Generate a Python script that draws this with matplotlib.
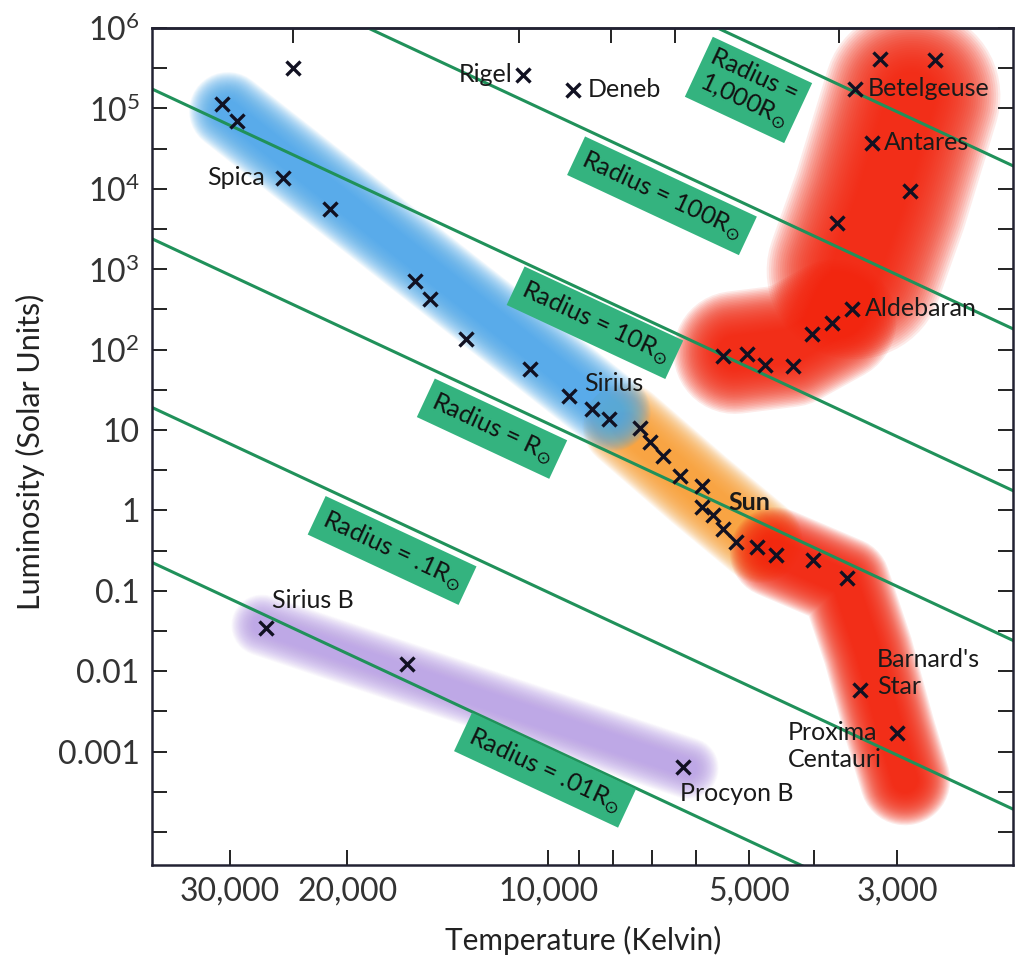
import numpy as np
import matplotlib.pyplot as plt
from matplotlib.ticker import FixedLocator, NullLocator

plt.rcParams['font.family'] = ['Lato', 'DejaVu Sans']

# ---- data ----
# main sequence (upper blue + lower orange/red part)
ms_temp = [30800, 29300, 25000, 21240, 15840, 15040, 13280, 10650, 9310, 8600, 8110,
           7285, 7040, 6730, 6345, 5880, 5880, 5660, 5470, 5230, 4864, 4555, 4009, 3565,
           3409, 3000]
ms_lum = [1.14e5, 7.0e4, 1.37e4, 5650, 720, 430, 137, 58, 26.8, 18.5, 13.9,
          10.7, 7.2, 4.7, 2.65, 2.04, 1.1, 0.87, 0.58, 0.41, 0.347, 0.276, 0.239, 0.143,
          0.0058, 0.0017]

# giants and supergiants
giant_temp = [5470, 5035, 4730, 4295, 4023, 3754, 3503, 3690, 2868, 3269, 3467, 3181, 2630]
giant_lum = [84, 89, 65, 63, 158, 216, 323, 3780, 9440, 3.73e4, 1.75e5, 4.12e5, 4.0e5]

super_temp = [24130, 10910, 9180]
super_lum = [3.19e5, 2.61e5, 1.7e5]

# white dwarfs
wd_temp = [26500, 16280, 6280]
wd_lum = [0.0342, 0.0122, 6.4e-4]

# named stars
names = ['Rigel', 'Deneb', 'Betelgeuse', 'Antares', 'Spica', 'Aldebaran', 'Sirius',
         'Sun', 'Sirius B', "Barnard's\nStar", 'Proxima\nCentauri', 'Procyon B']
name_temp = [10910, 9180, 3467, 3269, 25000, 3503, 9310, 5880, 26500, 3409, 3000, 6280]
name_lum = [2.61e5, 1.7e5, 1.75e5, 3.73e4, 1.37e4, 323, 26.8, 1.1, 0.0342, 0.0058,
            0.0017, 6.4e-4]

# radius lines: luminosity each line has at 5778 K
radius_labels = ['Radius =\n1,000R$_{\\odot}$', 'Radius = 100R$_{\\odot}$',
                 'Radius = 10R$_{\\odot}$', 'Radius = R$_{\\odot}$',
                 'Radius = .1R$_{\\odot}$', 'Radius = .01R$_{\\odot}$']
radius_lum_sun = [1.15e6, 1.08e4, 105, 1.44, 0.0115, 1.36e-4]
radius_slope = 3.87
# where each label box sits (temperature, luminosity of box centre)
box_temp = [5000, 6752, 8510, 12140, 17140, 10110]
box_lum = [1.75e5, 8190, 216, 10.4, 0.318, 5.9e-4]

# shaded regions (centre paths)
blue_band_t = [30200, 8025]
blue_band_l = [9.3e4, 16.5]
orange_band_t = [7674, 5922, 4813]
orange_band_l = [11.4, 1.77, 0.424]
redms_band_t = [4571, 3589, 3316, 3073, 2917]
redms_band_l = [0.301, 0.1276, 0.0182, 0.00185, 4.43e-4]
lobe_band_t = [5250, 4340, 3715]
lobe_band_l = [92, 112, 229]
column_band_t = [3467, 3181, 2849]
column_band_l = [958, 7100, 1.43e5]
wd_band_t = [26850, 6172]
wd_band_l = [0.0373, 6.24e-4]

xticks = [30000, 20000, 10000, 5000, 3000]
xtick_labels = ['30,000', '20,000', '10,000', '5,000', '3,000']
xminor = [9000, 8000, 7000, 6000, 4000]
top_ticks = [24100, 11050, 8060, 6450, 3660]
yticks = [1e6, 1e5, 1e4, 1e3, 1e2, 10, 1, 0.1, 0.01, 0.001, 1e-4]
ytick_labels = [r'$\mathregular{10^{6}}$', r'$\mathregular{10^{5}}$',
                r'$\mathregular{10^{4}}$', r'$\mathregular{10^{3}}$',
                r'$\mathregular{10^{2}}$', '10', '1', '0.1', '0.01', '0.001', '']

fig = plt.figure(figsize=(10.15, 9.59), dpi=100)
ax = fig.add_axes([152 / 1015, 1 - 865 / 959, 861 / 1015, 837 / 959])
ax.set_xscale('log')
ax.set_yscale('log')
ax.set_xlim(39260, 2010)
ax.set_ylim(3.9e-5, 1e6)


def soft_band(t, l, width, color, n=30, alpha=0.09):
    # stack of strokes, widest first, gives a blurred edge
    for i in range(n):
        w = width * (1.3 - 0.95 * i / (n - 1))
        ax.plot(t, l, color=color, lw=w, alpha=alpha, solid_capstyle='round',
                solid_joinstyle='round', zorder=1)


soft_band(orange_band_t, orange_band_l, 47, '#f8a43c')
soft_band(blue_band_t, blue_band_l, 43, '#4ea8ea', alpha=0.075)
soft_band(redms_band_t, redms_band_l, 50, '#f2260f')
soft_band(lobe_band_t, lobe_band_l, 68, '#f2260f')
soft_band(column_band_t, column_band_l, 98, '#f2260f')
soft_band(wd_band_t, wd_band_l, 34, '#b59ae6', alpha=0.05)

# radius lines
t_line = np.array([60000, 1500])
line_color = '#20915a'
for lsun in radius_lum_sun:
    ax.plot(t_line, lsun * (t_line / 5778) ** radius_slope, color=line_color,
            lw=2.2, zorder=2)

# angle of the lines on screen
p = ax.transData.transform([(10000, (10000 / 5778) ** radius_slope),
                            (5000, (5000 / 5778) ** radius_slope)])
angle = np.degrees(np.arctan2(p[1, 1] - p[0, 1], p[1, 0] - p[0, 0]))

for lab, bt, bl in zip(radius_labels, box_temp, box_lum):
    ax.text(bt, bl, lab, rotation=angle, rotation_mode='anchor', ha='center',
            va='center', fontsize=18, color='#111111', multialignment='left',
            zorder=3,
            bbox=dict(boxstyle='square,pad=0.3', fc='#34b37f', ec='none'))

# stars
mk = dict(marker='x', ls='none', color='#111122', ms=10, mew=2.4, zorder=4)
ax.plot(ms_temp, ms_lum, **mk)
ax.plot(giant_temp, giant_lum, **mk)
ax.plot(super_temp, super_lum, **mk)
ax.plot(wd_temp, wd_lum, **mk)

# label offsets in pixels (dx, dy) and alignment
offsets = [(-10, 0), (15, 0), (13, 0), (12, 0), (-18, 0), (13, 0), (15, 12),
           (26, 5), (6, 28), (17, 17), (-15, -13), (-3, -26)]
aligns = ['right', 'left', 'left', 'left', 'right', 'left', 'left',
          'left', 'left', 'left', 'right', 'left']
for nm, t, l, (dx, dy), ha in zip(names, name_temp, name_lum, offsets, aligns):
    ax.annotate(nm, (t, l), xytext=(dx * 0.72, dy * 0.72), textcoords='offset points',
                ha=ha, va='center', fontsize=18, color='#1a1a1a',
                fontweight='bold' if nm == 'Sun' else 'normal',
                multialignment='left', zorder=5)

# axes decoration
ax.xaxis.set_major_locator(FixedLocator(xticks))
ax.set_xticklabels(xtick_labels)
ax.xaxis.set_minor_locator(FixedLocator(xminor))
ax.xaxis.set_minor_formatter(plt.NullFormatter())
ax.yaxis.set_major_locator(FixedLocator(yticks))
ax.set_yticklabels(ytick_labels)
ax.yaxis.set_minor_locator(FixedLocator([10 ** (k + 0.5) for k in range(-5, 6)]))
ax.yaxis.set_minor_formatter(plt.NullFormatter())
ax.tick_params(axis='both', which='both', direction='in', length=11, width=1.4,
               colors='#222222', labelcolor='#333333')
ax.tick_params(axis='x', which='both', labelsize=23, pad=8)
ax.tick_params(axis='y', which='both', labelsize=23, pad=9, right=True)

top = ax.secondary_xaxis('top')
top.xaxis.set_major_locator(FixedLocator(top_ticks))
top.xaxis.set_minor_locator(NullLocator())
top.set_xticklabels([])
top.tick_params(direction='in', length=11, width=1.4, colors='#222222')

for side in ['left', 'right', 'top', 'bottom']:
    ax.spines[side].set_linewidth(1.8)
    ax.spines[side].set_color('#222233')
top.spines['top'].set_linewidth(1.8)
top.spines['top'].set_color('#222233')

fig.text(30 / 1015, 1 - 452 / 959, 'Luminosity (Solar Units)', rotation=90,
         ha='center', va='center', fontsize=22, color='#222222')
fig.text(583 / 1015, 1 - 940 / 959, 'Temperature (Kelvin)', ha='center',
         va='center', fontsize=21.5, color='#222222')

fig.savefig('out.png', dpi=100)
